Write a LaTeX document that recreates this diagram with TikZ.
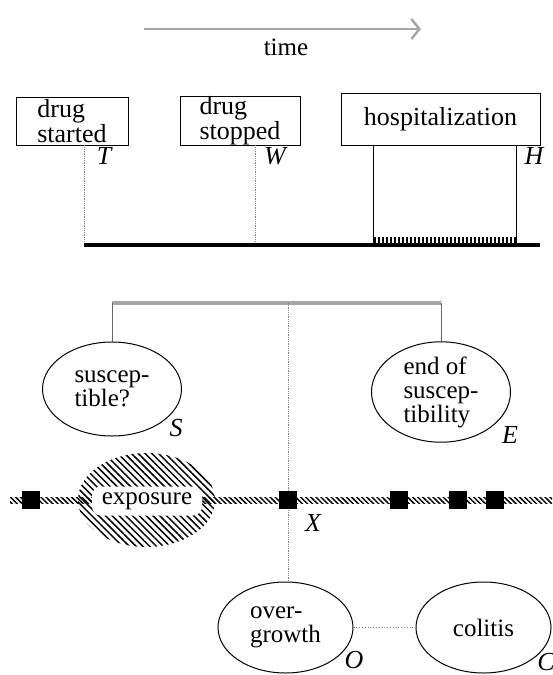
\documentclass[tikz,border=0pt]{standalone}
\usepackage{fontspec}
\setmainfont{Liberation Serif}
\usetikzlibrary{shapes.geometric,arrows.meta,patterns.meta}
\tikzset{
  txt/.style={font=\fontsize{25}{24}\selectfont, align=left},
  evbox/.style={draw, line width=0.9pt, inner sep=0pt, align=left, font=\fontsize{26}{21}\selectfont},
  evell/.style={txt, draw, ellipse, line width=1pt, inner sep=0pt, minimum width=138pt, minimum height=93pt},
  lab/.style={font=\fontsize{26}{26}\selectfont\itshape, inner sep=0pt},
  sq/.style={fill=black, minimum size=17.5pt, inner sep=0pt},
  dotline/.style={gray, line width=0.8pt, densely dotted},
  drop/.style={gray!80!black, line width=0.8pt}
}
\begin{document}
\begin{tikzpicture}[x=1pt,y=-1pt]
  \useasboundingbox (0,0) rectangle (552,675);
  % Coordinates
  \coordinate (ta) at (144,29);
  \coordinate (tb) at (421,29);
  \coordinate (b0) at (84,245);
  \coordinate (b1) at (255,245);
  \coordinate (b2) at (373,245);
  \coordinate (b3) at (516,245);
  \coordinate (b4) at (540,245);
  \coordinate (s0) at (112,303);
  \coordinate (s1) at (288,303);
  \coordinate (s2) at (441,303);
  \coordinate (r0) at (10,497);
  \coordinate (r1) at (552,503);

  % Time arrow
  \draw[gray!70, line width=2.5pt, -{Straight Barb[length=8pt,width=20pt]}] (ta) -- (tb);
  \node[txt] (time) at (286,47) {time};

  % Event boxes
  \node[evbox, minimum width=112pt, minimum height=48pt] (start) at (72,121) {drug\\started};
  \node[evbox, minimum width=120pt, minimum height=49pt] (stop) at (240,120.5) {drug\\stopped};
  \node[evbox, minimum width=199pt, minimum height=52pt] (hosp) at (440.5,119) {hospitalization};

  % Drawing the time line
  \draw[dotline] (b0 |- start.south) -- (b0);
  \draw[dotline] (b1 |- stop.south) -- (b1);
  \draw[line width=0.8pt] (b2 |- hosp.south) -- (b2);
  \draw[line width=0.8pt] (b3 |- hosp.south) -- (b3);
  \foreach \x in {375,379,...,515}
    \draw[line width=1.4pt] (\x,237) -- (\x,243);
  \draw[line width=4pt] (b0) -- (b4);

  % Susceptibility
  \draw[gray!70, line width=3.5pt] (s0) -- (s2);
  \node[evell, minimum width=139pt, minimum height=94pt] (sus) at (112,389) {suscep-\\tible?};
  \node[evell, minimum width=139pt, minimum height=92pt] (endsus) at (441,392) {end of\\suscep-\\tibility};
  \draw[drop] (s0) -- (sus);
  \draw[drop] (s2) -- (endsus);

  % Exposure line
  \fill[pattern={Lines[angle=-45,distance=3.6pt,line width=1.5pt]}] (r0) rectangle (r1);
  \node[ellipse, minimum width=137pt, minimum height=94pt,
    pattern={Lines[angle=-45,distance=4.8pt,line width=1.5pt]}] (expo) at (146.5,500) {};
  \node[txt, fill=white, rounded corners=9pt, minimum width=110pt, minimum height=29pt, inner sep=0pt] (expotxt) at (147,501) {exposure};

  % Outcome
  \node[evell, minimum width=135pt, minimum height=91pt] (grow) at (285.5,627.5) {over-\\growth};
  \node[evell, minimum width=135pt, minimum height=91pt] (col) at (483.5,627.5) {colitis};
  \draw[dotline] (s1) -- (s1 |- grow.north);
  \draw[dotline, dotted] (grow) -- (col);

  % Points
  \node[sq] (p1) at (31,500) {};
  \node[sq] (xpt) at (288,500) {};
  \node[sq] (p3) at (399,500) {};
  \node[sq] (p4) at (458,500) {};
  \node[sq] (p5) at (495,500) {};

  % Labels
  \node[lab] (lT) at (104,156) {T};
  \node[lab] (lW) at (275,156) {W};
  \node[lab] (lH) at (534,156) {H};
  \node[lab] (lS) at (176,428) {S};
  \node[lab] (lE) at (510,435) {E};
  \node[lab] (lX) at (313,523) {X};
  \node[lab] (lO) at (354,660) {O};
  \node[lab] (lC) at (546,662) {C};
\end{tikzpicture}
\end{document}
